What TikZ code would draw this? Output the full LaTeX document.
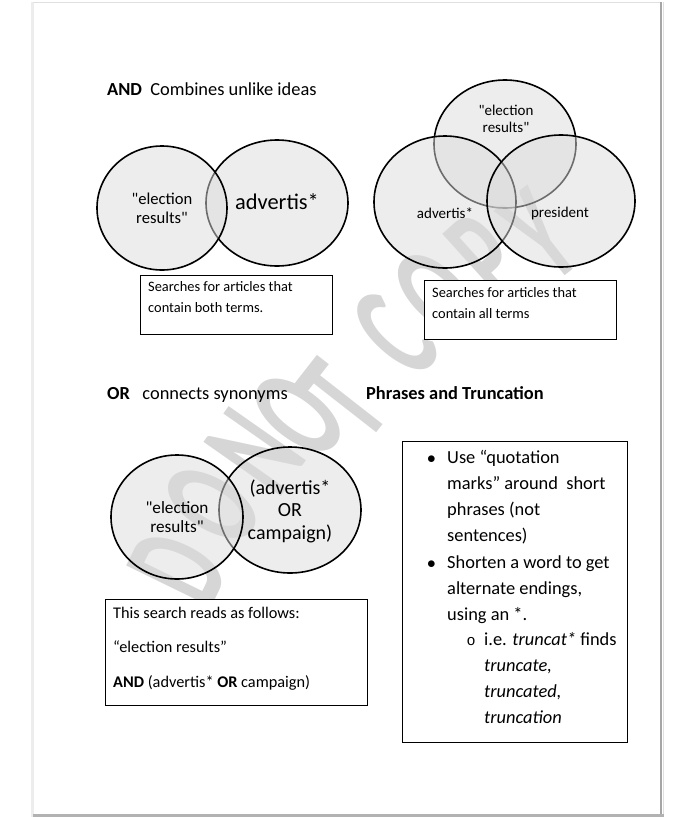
\documentclass[tikz,border=0pt]{standalone}
\usepackage{fontspec}
\setmainfont{Carlito}
\newfontfamily\monofont{Liberation Mono}
\usetikzlibrary{shapes.geometric}

\begin{document}
\begin{tikzpicture}[
  x=1pt, y=-1pt,
  venn/.style     = {ellipse, draw, line width=1.6, fill=black!14,
                     fill opacity=0.5, inner sep=0pt},
  vennlabel/.style = {align=center, inner sep=0pt},
  notebox/.style  = {draw, line width=0.9, fill=white, anchor=north west,
                     inner sep=0pt},
  notetext/.style = {anchor=north west, align=left, inner sep=0pt},
  heading/.style  = {anchor=base west, inner sep=0pt,
                     font=\fontsize{18.4}{22}\selectfont},
  wmark/.style    = {text=black!16, inner sep=0pt,
                     font=\fontsize{104}{104}\bfseries},
]
\useasboundingbox (0,0) rectangle (696,817);

% ── Page edges ────────────────────────────────────────────────────────────
\draw[black!7, line width=3] (32,2) -- (32,817);
\draw[black!12, line width=1] (33,2) -- (662,2);
\draw[black!35, line width=1.5] (661,2) -- (661,815);
\draw[black!12, line width=1.5] (663.5,2) -- (663.5,817);
\draw[black!30, line width=2.5] (33,815.5) -- (664,815.5);

% ── Watermark ─────────────────────────────────────────────────────────────
\foreach \l/\x/\y/\r [count=\i] in {D/178/568/64, O/212/505/59, N/255/452/55,
    O/298/415/53, T/343/400/52, C/395/335/48, O/437/295/45, P/487/258/42,
    Y/540/235/38}
  \node[wmark, rotate=\r] (wm\i) at (\x,\y) {\scalebox{0.78}[1.4]{\l}};

% ── AND ───────────────────────────────────────────────────────────────────
\node[heading] (andhead) at (107,95) {\textbf{AND}\ \ Combines unlike ideas};

\node[venn, minimum width=142, minimum height=126] (andR) at (277,203) {};
\node[venn, minimum width=130, minimum height=124] (andL) at (162,208) {};
\node[vennlabel, font=\fontsize{16.6}{19}\selectfont] (andLtext) at (andL)
  {\textquotedbl election\\results\textquotedbl};
\node[vennlabel, font=\fontsize{22.4}{26}\selectfont] (andRtext) at (277,202)
  {advertis*};

\node[notebox, minimum width=192, minimum height=59] (andbox) at (140,275) {};
\node[notetext, font=\fontsize{14.4}{21}\selectfont] (andnote) at (148,276.3)
  {\strut Searches for articles that\\contain both terms.};

% ── AND, three terms ──────────────────────────────────────────────────────
\node[venn, minimum width=142, minimum height=128] (triT) at (505,144) {};
\node[venn, minimum width=142, minimum height=132] (triL) at (445,202) {};
\node[venn, minimum width=148, minimum height=132] (triR) at (561,201) {};
\node[vennlabel, font=\fontsize{15}{17}\selectfont] (triTtext) at (506,119)
  {\textquotedbl election\\results\textquotedbl};
\node[vennlabel, font=\fontsize{15}{17}\selectfont] (triLtext) at (445,213)
  {advertis*};
\node[vennlabel, font=\fontsize{15}{17}\selectfont] (triRtext) at (560,213)
  {president};

\node[notebox, minimum width=192, minimum height=59] (tribox) at (424,280) {};
\node[notetext, font=\fontsize{14.4}{21}\selectfont] (trinote) at (432,282.3)
  {\strut Searches for articles that\\contain all terms};

% ── OR ────────────────────────────────────────────────────────────────────
\node[heading] (orhead) at (107,399) {\textbf{OR}\ \ \ connects synonyms};

\node[venn, minimum width=142, minimum height=126] (orR) at (290,510) {};
\node[venn, minimum width=132, minimum height=124] (orL) at (177,517) {};
\node[vennlabel, font=\fontsize{17.2}{18.5}\selectfont] (orLtext) at (orL)
  {\textquotedbl election\\results\textquotedbl};
\node[vennlabel, font=\fontsize{20}{22.5}\selectfont] (orRtext) at (290,511)
  {(advertis*\\OR\\campaign)};

\node[notebox, minimum width=262, minimum height=106] (orbox) at (105,599) {};
\node[notetext, font=\fontsize{16.3}{34.5}\selectfont] (ornote) at (113,593.9)
  {\strut This search reads as follows:\\
   “election results”\\
   \textbf{AND} (advertis* \textbf{OR} campaign)};

% ── Phrases and truncation ────────────────────────────────────────────────
\node[heading] (phrhead) at (366,399) {\textbf{Phrases and Truncation}};

\node[notebox, minimum width=225, minimum height=301] (phrbox) at (402,441) {};
\node[anchor=base, inner sep=0pt, font=\fontsize{18.4}{26}\selectfont]
  (bul1) at (431.5,463) {$\bullet$};
\node[anchor=base, inner sep=0pt, font=\fontsize{18.4}{26}\selectfont]
  (bul2) at (431.5,568) {$\bullet$};
\node[anchor=base, inner sep=0pt, font=\fontsize{15}{26}\monofont]
  (bul3) at (471,645) {o};
\node[notetext, font=\fontsize{18.4}{26}\selectfont] (item1) at (447,444.8)
  {\strut Use “quotation\\marks” around\ \ short\\phrases (not\\sentences)};
\node[notetext, font=\fontsize{18.4}{26}\selectfont] (item2) at (447,549.8)
  {\strut Shorten a word to get\\alternate endings,\\using an *.};
\node[notetext, font=\fontsize{18.4}{26}\selectfont] (item3) at (484,626.8)
  {\strut i.e. \textit{truncat*} finds\\\textit{truncate,}\\\textit{truncated,}\\
   \textit{truncation}};

\end{tikzpicture}
\end{document}
